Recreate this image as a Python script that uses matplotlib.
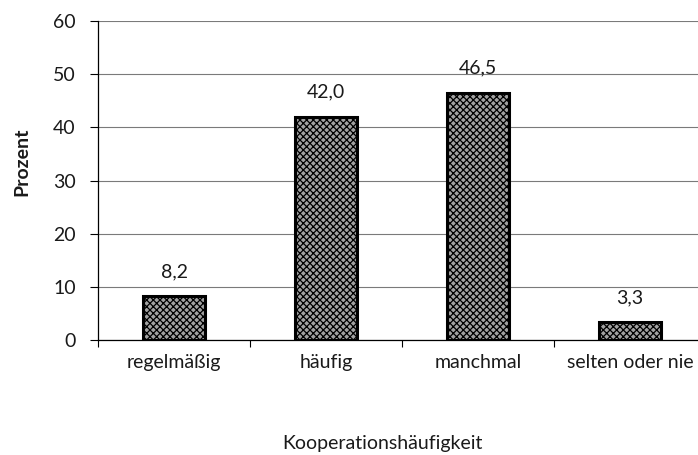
import matplotlib
matplotlib.use("Agg")
import matplotlib.pyplot as plt

categories = ["regelmäßig", "häufig", "manchmal", "selten oder nie"]
values = [8.2, 42.0, 46.5, 3.3]
value_labels = ["8,2", "42,0", "46,5", "3,3"]
y_ticks = [0, 10, 20, 30, 40, 50, 60]

plt.rcParams["font.family"] = ["Lato", "DejaVu Sans"]
plt.rcParams["hatch.color"] = "#111111"
plt.rcParams["hatch.linewidth"] = 0.9

FS = 14
TXT = "#1a1a1a"

fig = plt.figure(figsize=(6.98, 4.55), dpi=100)
ax = fig.add_axes([98 / 698, 1 - 340 / 455, 608 / 698, 319 / 455])

x = list(range(len(categories)))
bars = ax.bar(x, values, width=0.41, facecolor="#a2a2a2", edgecolor="black",
              linewidth=2.2, hatch="xxxxx", zorder=3)

for xi, v, lab in zip(x, values, value_labels):
    ax.annotate(lab, (xi, v), xytext=(0, 14), textcoords="offset points",
                ha="center", va="baseline", fontsize=FS, color=TXT)

ax.set_xlim(-0.5, len(categories) - 0.5)
ax.set_ylim(0, 60)
ax.set_yticks(y_ticks)
ax.set_yticklabels([str(t) for t in y_ticks], fontsize=FS, color=TXT)
ax.yaxis.grid(True, color="#7a7a7a", linewidth=0.8, zorder=0)
ax.set_axisbelow(True)

ax.set_xticks(x)
ax.set_xticklabels(categories, fontsize=FS, color=TXT)
ax.tick_params(axis="x", which="major", length=0, pad=10)
ax.set_xticks([i - 0.5 for i in range(len(categories))], minor=True)
ax.tick_params(axis="x", which="minor", length=5, width=0.8, direction="out")
ax.tick_params(axis="y", length=6, width=0.8, direction="out", pad=10)

for side in ("top", "right"):
    ax.spines[side].set_visible(False)
ax.spines["left"].set_linewidth(0.9)
ax.spines["bottom"].set_linewidth(0.9)

fig.text(22 / 698, 1 - 162 / 455, "Prozent", rotation=90, ha="center",
         va="center", fontsize=FS, fontweight="bold", color=TXT)
fig.text(382 / 698, 1 - 443 / 455, "Kooperationshäufigkeit", ha="center",
         va="center", fontsize=FS, color=TXT)

fig.savefig("out.png", dpi=100)
